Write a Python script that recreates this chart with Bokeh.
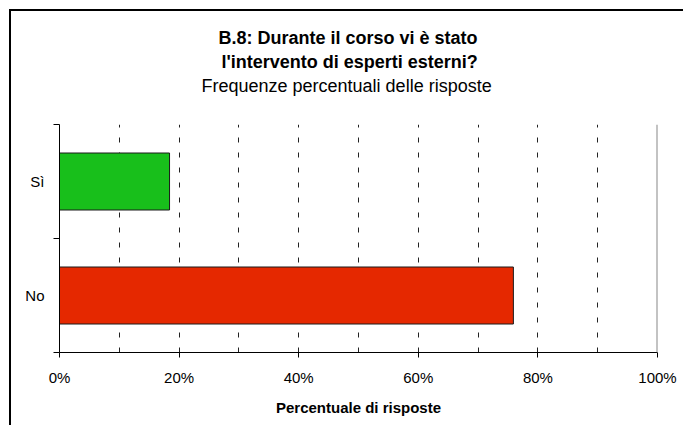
from bokeh.plotting import figure
from bokeh.embed import file_html
from bokeh.resources import INLINE
from bokeh.models import FixedTicker, Title, ColumnDataSource, Span

# ---- data ----
categories = ["No", "Sì"]
percentages = [75.9, 18.4]
bar_colors = ["#E52800", "#18BF1B"]
x_ticks = [0, 20, 40, 60, 80, 100]
x_tick_labels = ["0%", "20%", "40%", "60%", "80%", "100%"]
grid_ticks = [10, 20, 30, 40, 50, 60, 70, 80, 90, 100]
title_lines = ["B.8: Durante il corso vi è stato", "l'intervento di esperti esterni?"]
subtitle = "Frequenze percentuali delle risposte"

FONT = "Liberation Sans"

positions = [0.5 + i for i in range(len(categories))]
src = ColumnDataSource(dict(y=positions, right=percentages, color=bar_colors))

p = figure(width=674, height=416, output_backend="svg", toolbar_location=None,
           x_range=(0, 100), y_range=(0, len(categories)),
           min_border_left=48, min_border_right=28, min_border_top=113, min_border_bottom=75)
p.styles = {"border-top": "2px solid black", "border-left": "2px solid black",
            "margin-left": "9px", "margin-top": "9px"}

p.hbar(y="y", left=0, right="right", height=0.5, fill_color="color",
       line_color="#1a1a1a", line_width=1, source=src)

# titles, added from the frame outward; first one is an invisible spacer
p.add_layout(Title(text=" ", text_font_size="1px", standoff=25), "above")
p.add_layout(Title(text=subtitle, align="left", offset=142,
                   text_font=FONT, text_font_size="18px", text_font_style="normal",
                   text_color="black", standoff=2), "above")
p.add_layout(Title(text=title_lines[1], align="left", offset=162,
                   text_font=FONT, text_font_size="18px", text_font_style="bold",
                   text_color="black", standoff=2), "above")
p.add_layout(Title(text=title_lines[0], align="left", offset=159,
                   text_font=FONT, text_font_size="18px", text_font_style="bold",
                   text_color="black", standoff=2), "above")

# x axis
xa = p.xaxis[0]
xa.ticker = FixedTicker(ticks=x_ticks)
xa.major_label_overrides = {t: l for t, l in zip(x_ticks, x_tick_labels)}
xa.major_tick_in = 0
xa.major_tick_out = 5
xa.minor_tick_out = 0
xa.minor_tick_in = 0
xa.major_label_standoff = 11
xa.major_label_text_font = FONT
xa.major_label_text_font_size = "15px"
xa.major_label_text_color = "black"
xa.axis_label = "Percentuale di risposte"
xa.axis_label_text_font = FONT
xa.axis_label_text_font_size = "15px"
xa.axis_label_text_font_style = "bold"
xa.axis_label_text_color = "black"
xa.axis_label_standoff = 10
xa.axis_line_color = "black"
xa.major_tick_line_color = "black"

# y axis
ya = p.yaxis[0]
ya.ticker = FixedTicker(ticks=positions, minor_ticks=[0, 1, 2])
ya.major_label_overrides = {pos: c for pos, c in zip(positions, categories)}
ya.major_tick_in = 0
ya.major_tick_out = 0
ya.minor_tick_in = 0
ya.minor_tick_out = 6
ya.minor_tick_line_color = "black"
ya.major_label_standoff = 9
ya.major_label_text_font = FONT
ya.major_label_text_font_size = "15px"
ya.major_label_text_color = "black"
ya.axis_line_color = "black"

# grid
p.ygrid.grid_line_color = None
p.xgrid.ticker = FixedTicker(ticks=grid_ticks)
p.xgrid.grid_line_color = "#222222"
p.xgrid.grid_line_dash = "5 10"
p.xgrid.grid_line_width = 1

p.outline_line_color = None
right_edge = Span(location=100, dimension="height", line_color="#888888", line_width=2)
p.add_layout(right_edge)

p.background_fill_color = "white"
p.border_fill_color = "white"

open("out.html", "w").write(file_html(p, INLINE))
